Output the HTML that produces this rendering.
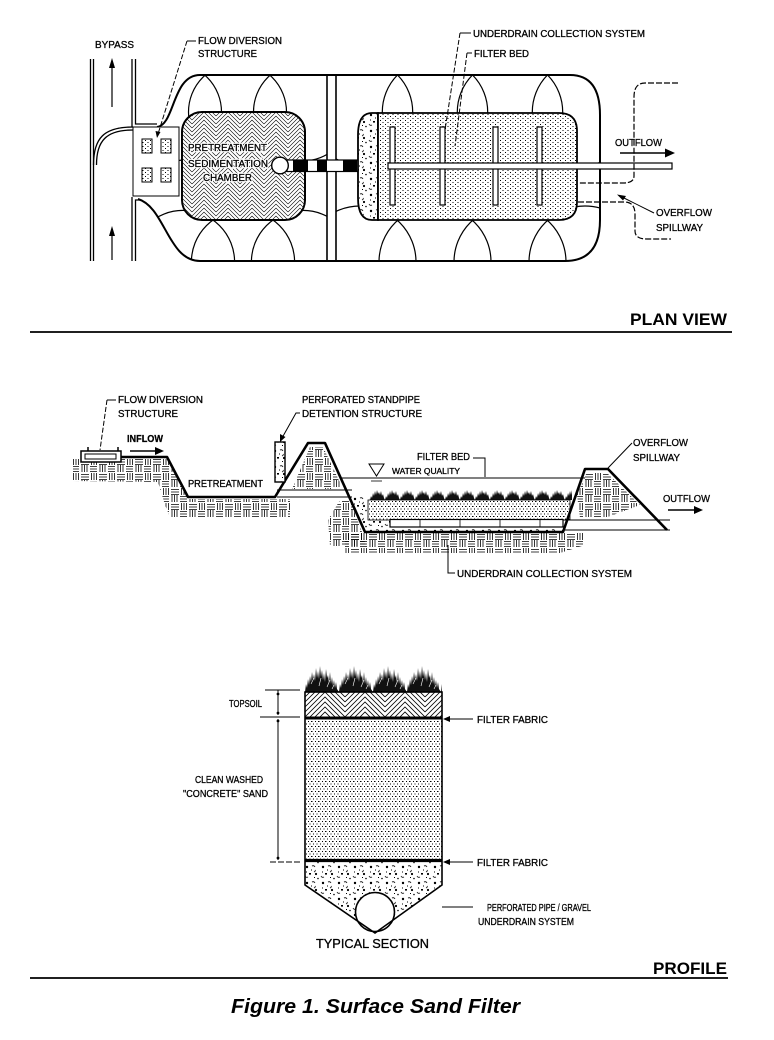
<!DOCTYPE html>
<html>
<head>
<meta charset="utf-8">
<style>
html,body{margin:0;padding:0;background:#fff;}
svg{display:block;}
text{font-family:"Liberation Sans",Arial,sans-serif;fill:#000;}
.t{stroke:#000;stroke-width:0.3;}
</style>
</head>
<body>
<svg width="774" height="1040" viewBox="0 0 774 1040" xmlns="http://www.w3.org/2000/svg">
<defs>
  <pattern id="hb" width="24" height="24" patternUnits="userSpaceOnUse">
    <path d="M0,0L12,-12L24,0M0,4L12,-8L24,4M0,8L12,-4L24,8M0,12L12,0L24,12M0,16L12,4L24,16M0,20L12,8L24,20M0,24L12,12L24,24M0,28L12,16L24,28M0,32L12,20L24,32M0,36L12,24L24,36" stroke="#000" stroke-width="0.6" fill="none"/>
  </pattern>
  <pattern id="hb2" width="40" height="40" patternUnits="userSpaceOnUse" x="305" y="692">
    <path d="M0,0L20,-20L40,0M0,5L20,-15L40,5M0,10L20,-10L40,10M0,15L20,-5L40,15M0,20L20,0L40,20M0,25L20,5L40,25M0,30L20,10L40,30M0,35L20,15L40,35M0,40L20,20L40,40M0,45L20,25L40,45M0,50L20,30L40,50M0,55L20,35L40,55M0,60L20,40L40,60" stroke="#000" stroke-width="0.8" fill="none"/>
  </pattern>
  <pattern id="stip" width="5" height="4" patternUnits="userSpaceOnUse">
    <rect x="0" y="0" width="1" height="1" fill="#000"/>
    <rect x="2.5" y="2" width="1" height="1" fill="#000"/>
  </pattern>
  <pattern id="sand" width="7" height="5" patternUnits="userSpaceOnUse">
    <rect x="0" y="1" width="1" height="1" fill="#000"/>
    <rect x="3" y="1" width="1.5" height="1" fill="#000"/>
    <rect x="1.5" y="3.5" width="1" height="1" fill="#000"/>
    <rect x="5" y="3.5" width="1" height="1" fill="#000"/>
  </pattern>
  <pattern id="grav" width="16" height="16" patternUnits="userSpaceOnUse">
    <circle cx="3" cy="3" r="1.2" fill="#000"/>
    <path d="M8,2q2,-1 3,1M1,12q1,2 3,1M11,6q1,1 -1,2" stroke="#000" stroke-width="0.8" fill="none"/>
    <circle cx="12" cy="10" r="1.1" fill="#000"/>
    <rect x="5" y="9" width="2" height="1.6" fill="#000"/>
    <circle cx="14" cy="14.5" r="0.8" fill="#000"/>
    <rect x="7" y="5.5" width="1" height="1" fill="#000"/>
    <rect x="10" y="13" width="1" height="1" fill="#000"/>
    <rect x="2" y="7.5" width="1" height="1" fill="#000"/>
  </pattern>
  <pattern id="soil" width="18" height="15" patternUnits="userSpaceOnUse">
    <path d="M0,1.5H7M0,4H7M0,6.5H7M10,0V7M12.5,0V7M15,0V7M1.5,8V15M4,8V15M6.5,8V15M9,9.5H17M9,12H17M9,14.5H17" stroke="#000" stroke-width="0.8" fill="none"/>
  </pattern>
  <pattern id="shrubA" width="15" height="11" patternUnits="userSpaceOnUse" x="370" y="489">
    <path d="M0,11L1,7L2,9L3,4L4,7L5,2L6,6L7,1L8,5L9,3L10,6L11,2L12,7L13,5L14,9L15,11Z" fill="#111"/>
  </pattern>
  <pattern id="shrubB" width="34" height="30" patternUnits="userSpaceOnUse" x="305" y="662">
    <path d="M0,30L1,22L2,26L3,17L4,23L5,14L6,20L7,10L8,18L9,12L10,19L11,6L12,16L13,9L14,17L15,4L16,15L17,8L18,18L19,11L20,20L21,7L22,16L23,13L24,21L25,10L26,22L27,15L28,24L29,18L30,26L31,20L32,27L34,30Z" fill="#111"/>
    <path d="M6,22l3,-6M14,24l2,-8M22,25l3,-7M27,27l2,-4" stroke="#fff" stroke-width="0.6"/>
  </pattern>
  <clipPath id="cpL">
    <path d="M157,127C175,125 172,75 200,75L327,75L327,261L200,261C165,261 165,205 138,199Z"/>
  </clipPath>
  <clipPath id="cpR">
    <path d="M336,75L570,75Q600,75 600,115L600,220Q600,261 565,261L336,261Z"/>
  </clipPath>
</defs>

<rect width="774" height="1040" fill="#fff"/>

<!-- ================= PLAN VIEW ================= -->
<!-- scallop circles -->
<g clip-path="url(#cpL)" fill="none" stroke="#000" stroke-width="1.2">
  <circle cx="107.5" cy="112" r="49"/><circle cx="172.5" cy="112" r="49"/><circle cx="237.5" cy="112" r="49"/><circle cx="302.5" cy="112" r="49"/>
  <circle cx="123" cy="262" r="51.6"/><circle cx="183" cy="262" r="51.6"/><circle cx="243" cy="262" r="51.6"/><circle cx="303" cy="262" r="51.6"/>
</g>
<g clip-path="url(#cpR)" fill="none" stroke="#000" stroke-width="1.2">
  <circle cx="360" cy="112" r="52.7"/><circle cx="435" cy="112" r="52.7"/><circle cx="510" cy="112" r="52.7"/><circle cx="585" cy="112" r="52.7"/>
  <circle cx="360" cy="262" r="56"/><circle cx="435" cy="262" r="56"/><circle cx="510" cy="262" r="56"/><circle cx="585" cy="262" r="56"/>
</g>

<!-- pond outline -->
<g fill="none" stroke="#000" stroke-width="2">
  <path d="M157,127C175,125 172,75 200,75L570,75Q600,75 600,115L600,220Q600,261 565,261L200,261C168,261 165,207 138,199"/>
</g>
<!-- divider -->
<g stroke="#000" stroke-width="1.6">
  <line x1="327" y1="75" x2="327" y2="261"/>
  <line x1="336" y1="75" x2="336" y2="261"/>
</g>

<!-- road -->
<g fill="none" stroke="#000" stroke-width="1.3">
  <line x1="90.5" y1="59" x2="90.5" y2="261"/>
  <line x1="93.5" y1="59" x2="93.5" y2="261"/>
  <path d="M93.5,165C93.5,138 104,127 133,127"/>
  <path d="M96.5,165C96.5,141 106,130 133,130"/>
  <path d="M132,59V127M135.5,59V124H157"/>
  <path d="M132,261V197M135.5,261V200H140"/>
</g>
<!-- bypass arrows -->
<g stroke="#000" stroke-width="1.2">
  <line x1="112" y1="66" x2="112" y2="107"/>
  <line x1="112" y1="234" x2="112" y2="260"/>
</g>
<polygon points="112,58 109,68 115,68" fill="#000"/>
<polygon points="112,226 109,236 115,236" fill="#000"/>

<!-- flow diversion box -->
<rect x="133" y="127" width="46" height="69" fill="#fff" stroke="#000" stroke-width="1"/>
<g fill="url(#stip)" stroke="#000" stroke-width="1">
  <rect x="142" y="139" width="10" height="14"/>
  <rect x="161" y="139" width="10" height="14"/>
  <rect x="142" y="168" width="10" height="14"/>
  <rect x="161" y="168" width="10" height="14"/>
</g>

<!-- pretreatment chamber -->
<rect x="182" y="112" width="123" height="108" rx="20" ry="20" fill="#fff"/>
<rect x="182" y="112" width="123" height="108" rx="20" ry="20" fill="url(#hb)" stroke="#000" stroke-width="2"/>
<g font-size="10.5" fill="#fff" stroke="#fff" stroke-width="2.4">
  <text x="188" y="151" textLength="79" lengthAdjust="spacingAndGlyphs" style="fill:#fff">PRETREATMENT</text>
  <text x="188" y="167" textLength="80" lengthAdjust="spacingAndGlyphs" style="fill:#fff">SEDIMENTATION</text>
  <text x="203" y="181" textLength="49" lengthAdjust="spacingAndGlyphs" style="fill:#fff">CHAMBER</text>
</g>
<g font-size="10.5" class="t">
  <text x="188" y="151" textLength="79" lengthAdjust="spacingAndGlyphs">PRETREATMENT</text>
  <text x="188" y="167" textLength="80" lengthAdjust="spacingAndGlyphs">SEDIMENTATION</text>
  <text x="203" y="181" textLength="49" lengthAdjust="spacingAndGlyphs">CHAMBER</text>
</g>

<!-- connecting pipe -->
<rect x="287" y="160" width="76" height="11.5" fill="#fff" stroke="#000" stroke-width="1.2"/>
<g fill="#000">
  <rect x="293" y="160" width="15" height="11.5"/>
  <rect x="317" y="160" width="10" height="11.5"/>
  <rect x="343" y="160" width="14" height="11.5"/>
</g>
<circle cx="280" cy="165.5" r="8.3" fill="#fff" stroke="#000" stroke-width="1.4"/>

<!-- filter chamber -->
<path d="M378,113L372,113Q358,113 358,135L358,198Q358,220 372,220L378,220Z" fill="#fff"/>
<path d="M378,113L372,113Q358,113 358,135L358,198Q358,220 372,220L378,220Z" fill="url(#grav)" stroke="#000" stroke-width="1.8"/>
<path d="M378,113L559,113Q577,113 577,131L577,202Q577,220 559,220L378,220Z" fill="#fff"/>
<path d="M378,113L559,113Q577,113 577,131L577,202Q577,220 559,220L378,220Z" fill="url(#stip)" stroke="#000" stroke-width="1.8"/>
<g fill="#fff" stroke="#000" stroke-width="1.2">
  <rect x="390" y="127" width="5" height="78"/>
  <rect x="440" y="127" width="5" height="78"/>
  <rect x="493" y="127" width="5" height="78"/>
  <rect x="537" y="127" width="5" height="78"/>
  <rect x="388" y="163" width="284" height="6"/>
</g>

<!-- outflow -->
<line x1="620" y1="153" x2="667" y2="153" stroke="#000" stroke-width="1.6"/>
<polygon points="675,153 665,148.5 665,157.5" fill="#000"/>
<!-- dashed spillway lines -->
<g fill="none" stroke="#000" stroke-width="1.2" stroke-dasharray="6,2">
  <path d="M678,83H645Q634,83 634,97V176Q634,183 623,183H578"/>
  <path d="M578,202H624Q635,202 635,214V231Q635,239 647,239H671"/>
</g>
<!-- overflow leader -->
<line x1="654" y1="213" x2="624" y2="198" stroke="#000" stroke-width="1"/>
<polygon points="617,194.5 626,196 623,200.5" fill="#000"/>

<!-- plan leaders -->
<g fill="none" stroke="#000" stroke-width="1">
  <path d="M196,41H187"/>
  <path d="M187,41L158,134" stroke-dasharray="5,2"/>
  <path d="M471,33H460"/>
  <path d="M460,33L445,130" stroke-dasharray="5,2"/>
  <path d="M472,53H467"/>
  <path d="M467,53L455,146" stroke-dasharray="5,2"/>
</g>
<polygon points="157,138 155.5,131 160.5,132" fill="#000"/>

<!-- plan labels -->
<g font-size="10.5" class="t">
  <text x="95" y="48" textLength="39" lengthAdjust="spacingAndGlyphs">BYPASS</text>
  <text x="198" y="44" textLength="84" lengthAdjust="spacingAndGlyphs">FLOW DIVERSION</text>
  <text x="198" y="57" textLength="59" lengthAdjust="spacingAndGlyphs">STRUCTURE</text>
  <text x="473" y="37" textLength="172" lengthAdjust="spacingAndGlyphs">UNDERDRAIN COLLECTION SYSTEM</text>
  <text x="474" y="57" textLength="55" lengthAdjust="spacingAndGlyphs">FILTER BED</text>
  <text x="615" y="146" textLength="47" lengthAdjust="spacingAndGlyphs">OUTFLOW</text>
  <text x="656" y="216" textLength="56" lengthAdjust="spacingAndGlyphs">OVERFLOW</text>
  <text x="656" y="231" textLength="47" lengthAdjust="spacingAndGlyphs">SPILLWAY</text>
</g>

<text x="630" y="325" font-size="17" font-weight="bold" textLength="97" lengthAdjust="spacingAndGlyphs">PLAN  VIEW</text>
<line x1="30" y1="332" x2="732" y2="332" stroke="#000" stroke-width="1.8"/>

<!-- ================= PROFILE ================= -->
<!-- soil hatching -->
<g fill="url(#soil)">
  <path d="M73,459L167,459L189,499L290,499L290,517L170,517L165,505L158,482L73,481Z"/>
  <path d="M310,447L323,447L343,489L292,489Z"/>
  <path d="M340,500L350,500L362,532L366,546L330,546L328,520Z"/>
  <path d="M345,533L585,533L585,545L560,553L345,553Z"/>
  <path d="M587,472L606,472L640,505L605,518L580,518L577,495Z"/>
</g>

<!-- filter bed in basin -->
<path d="M350,497L370,497L370,532L365,532Z" fill="url(#grav)"/>
<rect x="370" y="489" width="202" height="11" fill="url(#shrubA)"/>
<rect x="368" y="500" width="202" height="20" fill="#fff"/>
<rect x="368" y="500" width="202" height="20" fill="url(#sand)" stroke="#000" stroke-width="0.8"/>
<rect x="368" y="520" width="195" height="12" fill="url(#grav)"/>
<rect x="390" y="519.5" width="173" height="7.5" fill="#fff" stroke="#000" stroke-width="1.2"/>
<g stroke="#000" stroke-width="0.8">
  <line x1="420" y1="520" x2="420" y2="527"/><line x1="460" y1="520" x2="460" y2="527"/>
  <line x1="500" y1="520" x2="500" y2="527"/><line x1="540" y1="520" x2="540" y2="527"/>
</g>

<!-- pipes -->
<g stroke="#000" stroke-width="1.1">
  <line x1="277" y1="490" x2="352" y2="490"/>
  <line x1="277" y1="497" x2="352" y2="497"/>
  <line x1="563" y1="520" x2="670" y2="520"/>
  <line x1="563" y1="530" x2="670" y2="530"/>
</g>

<!-- water level -->
<line x1="340" y1="478" x2="585" y2="478" stroke="#000" stroke-width="0.9"/>
<polygon points="369,464 384,464 376.5,476" fill="#fff" stroke="#000" stroke-width="1"/>
<line x1="371" y1="481" x2="382" y2="481" stroke="#000" stroke-width="0.8"/>

<!-- ground line -->
<path d="M121,457L167,457L188,497L275,497L308,443L325,443L365,532L563,532L585,469L608,469L667,530" fill="none" stroke="#000" stroke-width="2.6" stroke-linejoin="round"/>

<!-- diversion structure -->
<rect x="81" y="451" width="40" height="11" fill="#fff" stroke="#000" stroke-width="1.5"/>
<rect x="85" y="454" width="31" height="5" fill="none" stroke="#000" stroke-width="1"/>
<line x1="88" y1="451" x2="88" y2="447" stroke="#000" stroke-width="1.5"/>
<line x1="118" y1="451" x2="118" y2="447" stroke="#000" stroke-width="1.5"/>

<!-- standpipe -->
<rect x="275" y="442" width="10" height="40" fill="#fff"/>
<rect x="275" y="442" width="10" height="40" fill="url(#grav)" stroke="#000" stroke-width="1.4"/>

<!-- inflow arrow -->
<line x1="130" y1="451" x2="157" y2="451" stroke="#000" stroke-width="1.4"/>
<polygon points="164,451 155,447 155,455" fill="#000"/>
<!-- outflow arrow -->
<line x1="668" y1="510" x2="695" y2="510" stroke="#000" stroke-width="1.4"/>
<polygon points="703,510 694,506 694,514" fill="#000"/>

<!-- profile leaders -->
<g fill="none" stroke="#000" stroke-width="1">
  <path d="M116,400H107"/>
  <path d="M107,400L100,450" stroke-dasharray="5,2"/>
  <path d="M300,413H296L282,438"/>
  <path d="M473,458H485V477" />
  <path d="M632,443L608,468"/>
  <path d="M455,573H448V545"/>
</g>
<polygon points="280,442 280,434 285.5,437" fill="#000"/>

<!-- profile labels -->
<g font-size="10.5" class="t">
  <text x="118" y="403" textLength="85" lengthAdjust="spacingAndGlyphs">FLOW DIVERSION</text>
  <text x="118" y="417" textLength="60" lengthAdjust="spacingAndGlyphs">STRUCTURE</text>
  <text x="127" y="442" textLength="36" lengthAdjust="spacingAndGlyphs" font-weight="bold">INFLOW</text>
  <text x="188" y="487" textLength="75" lengthAdjust="spacingAndGlyphs">PRETREATMENT</text>
  <text x="302" y="403" textLength="118" lengthAdjust="spacingAndGlyphs">PERFORATED STANDPIPE</text>
  <text x="302" y="417" textLength="120" lengthAdjust="spacingAndGlyphs">DETENTION STRUCTURE</text>
  <text x="417" y="460" textLength="53" lengthAdjust="spacingAndGlyphs">FILTER BED</text>
  <text x="392" y="474" font-size="8" textLength="68" lengthAdjust="spacingAndGlyphs">WATER QUALITY</text>
  <text x="633" y="446" textLength="55" lengthAdjust="spacingAndGlyphs">OVERFLOW</text>
  <text x="633" y="461" textLength="47" lengthAdjust="spacingAndGlyphs">SPILLWAY</text>
  <text x="663" y="502" textLength="47" lengthAdjust="spacingAndGlyphs">OUTFLOW</text>
  <text x="457" y="577" textLength="175" lengthAdjust="spacingAndGlyphs">UNDERDRAIN COLLECTION SYSTEM</text>
</g>

<!-- ================= TYPICAL SECTION ================= -->
<rect x="305" y="662" width="137" height="30" fill="url(#shrubB)"/>
<rect x="305" y="692" width="137" height="26" fill="url(#hb2)"/>
<rect x="305" y="718" width="137" height="142" fill="url(#sand)"/>
<path d="M305,860L442,860L442,885L375,933L305,885Z" fill="url(#grav)"/>
<circle cx="375" cy="912" r="19.5" fill="#fff" stroke="#000" stroke-width="1.6"/>
<path d="M305,692V885L375,933L442,885V692Z" fill="none" stroke="#000" stroke-width="1.6"/>
<line x1="305" y1="692" x2="442" y2="692" stroke="#000" stroke-width="1.2"/>
<line x1="305" y1="718" x2="442" y2="718" stroke="#000" stroke-width="3"/>
<line x1="305" y1="860.5" x2="442" y2="860.5" stroke="#000" stroke-width="3.2"/>

<!-- dimension lines -->
<g stroke="#000" stroke-width="1" fill="none">
  <line x1="265" y1="690" x2="300" y2="690"/>
  <line x1="260" y1="717" x2="300" y2="717"/>
  <line x1="270" y1="862" x2="302" y2="862" stroke-dasharray="6,2"/>
  <line x1="278" y1="690" x2="278" y2="715"/>
  <line x1="278" y1="719" x2="278" y2="860"/>
</g>
<g fill="#000">
  <circle cx="278" cy="694" r="1.4"/><circle cx="278" cy="713" r="1.4"/>
  <circle cx="278" cy="721" r="1.4"/><circle cx="278" cy="858" r="1.4"/>
</g>

<!-- section arrows -->
<g stroke="#000" stroke-width="1.1">
  <line x1="448" y1="719" x2="473" y2="719"/>
  <line x1="448" y1="862" x2="473" y2="862"/>
  <line x1="442" y1="907" x2="473" y2="907"/>
</g>
<polygon points="443,719 450,716 450,722" fill="#000"/>
<polygon points="443,862 450,859 450,865" fill="#000"/>

<g font-size="10.5" class="t">
  <text x="229" y="707" textLength="33" lengthAdjust="spacingAndGlyphs">TOPSOIL</text>
  <text x="195" y="783" textLength="68" lengthAdjust="spacingAndGlyphs">CLEAN WASHED</text>
  <text x="183" y="797" textLength="85" lengthAdjust="spacingAndGlyphs">"CONCRETE" SAND</text>
  <text x="477" y="723" textLength="71" lengthAdjust="spacingAndGlyphs">FILTER FABRIC</text>
  <text x="477" y="866" textLength="71" lengthAdjust="spacingAndGlyphs">FILTER FABRIC</text>
  <text x="487" y="911" textLength="104" lengthAdjust="spacingAndGlyphs">PERFORATED PIPE / GRAVEL</text>
  <text x="478" y="925" textLength="96" lengthAdjust="spacingAndGlyphs">UNDERDRAIN SYSTEM</text>
</g>
<text x="316" y="948" font-size="13" class="t" textLength="113" lengthAdjust="spacingAndGlyphs">TYPICAL SECTION</text>

<text x="653" y="974" font-size="17" font-weight="bold" textLength="74" lengthAdjust="spacingAndGlyphs">PROFILE</text>
<line x1="30" y1="978" x2="728" y2="978" stroke="#000" stroke-width="1.8"/>

<text x="231" y="1013" font-size="20" font-weight="bold" font-style="italic" textLength="289" lengthAdjust="spacingAndGlyphs">Figure 1. Surface Sand Filter</text>
</svg>
</body>
</html>
